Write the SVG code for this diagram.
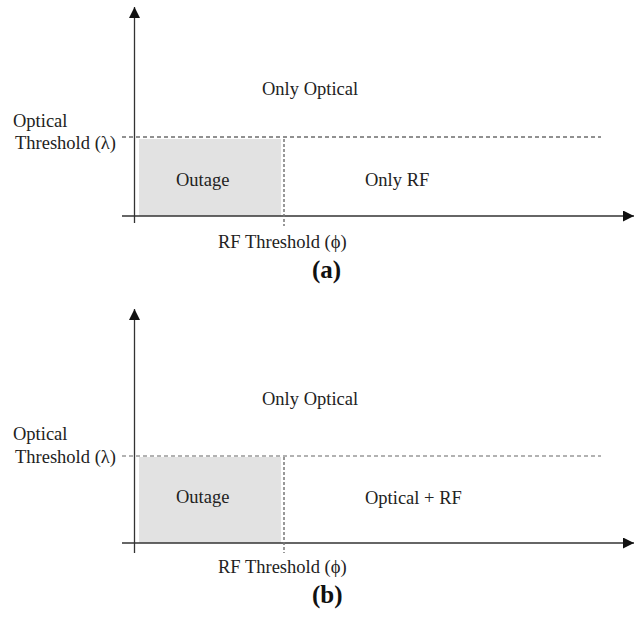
<svg xmlns="http://www.w3.org/2000/svg" width="638" height="620" viewBox="0 0 638 620">
<style>
text{font-family:"Liberation Serif","Times New Roman",serif;font-size:18.5px;fill:#222}
.cap{font-weight:bold;font-size:25px;fill:#111}
.axis{stroke:#333;stroke-width:1.3;fill:none}
.hd{stroke:#222;stroke-width:1;stroke-dasharray:4 3;fill:none}
.hdg{stroke:#666;stroke-width:1.2;stroke-dasharray:4 3;fill:none}
.vd{stroke:#777;stroke-width:1.5;stroke-dasharray:3 2;fill:none}
.out{fill:#e2e2e2}
</style>
<defs>
<marker id="ah" viewBox="0 0 10 10" refX="10" refY="5" markerWidth="11" markerHeight="11" markerUnits="userSpaceOnUse" orient="auto">
<path d="M0,0 L10,5 L0,10 Z" fill="#111"/>
</marker>
</defs>
<rect width="638" height="620" fill="#fff"/>
<g id="panel-a">
<g id="outage-a"><rect class="out" x="139" y="139" width="142" height="77"/><text x="176" y="186">Outage</text></g>
<g id="connectors-a">
<line class="axis" x1="134.5" y1="223" x2="134.5" y2="7" marker-end="url(#ah)"/>
<line class="axis" x1="122" y1="216" x2="634" y2="216" marker-end="url(#ah)"/>
<line class="hd" x1="122" y1="137" x2="601" y2="137"/>
<line class="vd" x1="284" y1="139" x2="284" y2="226"/>
</g>
<g id="labels-a">
<text x="262" y="95">Only Optical</text>
<text x="13" y="127">Optical</text>
<text x="15" y="149">Threshold (λ)</text>
<text x="365" y="186">Only RF</text>
<text x="218" y="248">RF Threshold (ϕ)</text>
<text class="cap" x="312" y="278">(a)</text>
</g>
</g>
<g id="panel-b">
<g id="outage-b"><rect class="out" x="139" y="457" width="142" height="86"/><text x="176" y="503">Outage</text></g>
<g id="connectors-b">
<line class="axis" x1="134.5" y1="553" x2="134.5" y2="309" marker-end="url(#ah)"/>
<line class="axis" x1="122" y1="543" x2="634" y2="543" marker-end="url(#ah)"/>
<line class="hdg" x1="122" y1="456" x2="601" y2="456"/>
<line class="vd" x1="284" y1="457" x2="284" y2="553"/>
</g>
<g id="labels-b">
<text x="262" y="405">Only Optical</text>
<text x="13" y="440">Optical</text>
<text x="15" y="463">Threshold (λ)</text>
<text x="365" y="504">Optical + RF</text>
<text x="218" y="573">RF Threshold (ϕ)</text>
<text class="cap" x="312" y="603">(b)</text>
</g>
</g>
</svg>
